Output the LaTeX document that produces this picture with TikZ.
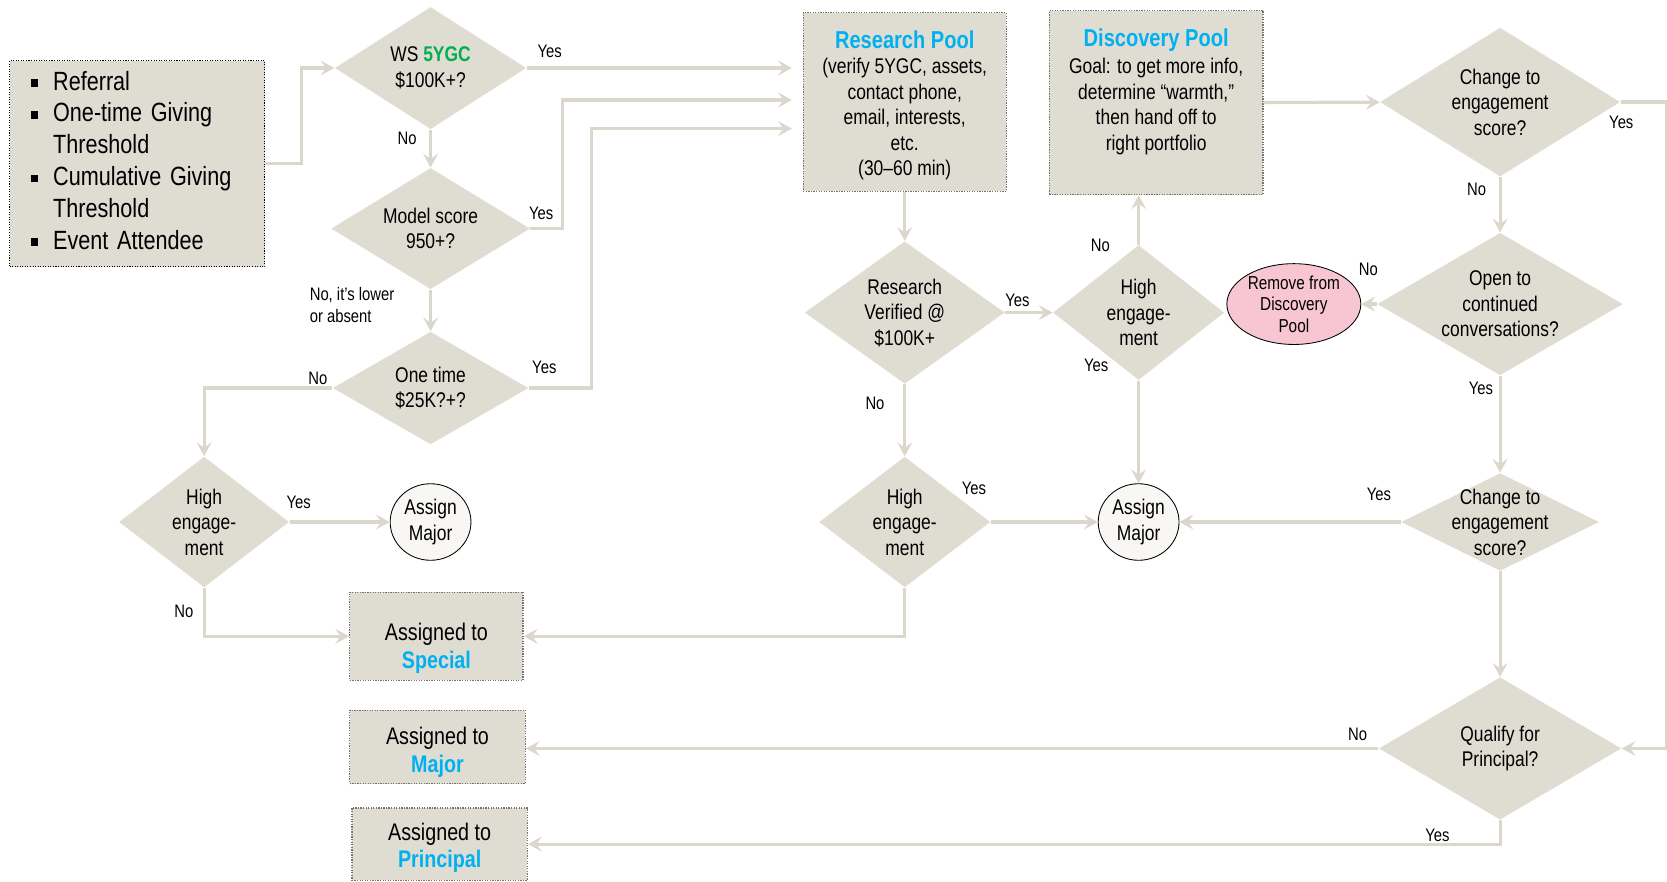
\documentclass[tikz,border=0pt]{standalone}
\usepackage{fontspec}
\setmainfont{Liberation Sans}[FakeStretch=0.82]
\usetikzlibrary{shapes.geometric, arrows.meta, positioning}
\definecolor{tan}{RGB}{223,220,210}
\definecolor{wire}{RGB}{219,215,205}
\definecolor{skyblue}{RGB}{0,176,240}
\definecolor{leaf}{RGB}{0,176,80}
\definecolor{blush}{RGB}{248,198,211}
\definecolor{chalk}{RGB}{248,247,244}
\newcommand{\blt}{\makebox[10.5pt][l]{\rule[1.5pt]{3.5pt}{3.5pt}}}
\newcommand{\nob}{\makebox[10.5pt]{}}
\tikzset{ask/.style={label={[dtext]center:{#1}}}}

\begin{document}
\begin{tikzpicture}[x=0.5pt, y=-0.5pt]
\tikzstyle{decision}=[diamond, fill=tan, inner sep=0pt]
\tikzstyle{dtext}=[font=\fontsize{10}{12}\selectfont, align=center, inner sep=0pt]
\tikzstyle{pool}=[rectangle, fill=tan, draw=black!55, line width=0.6pt, dash pattern=on 0.6pt off 0.6pt, align=center, inner sep=0pt, font=\fontsize{10}{12}\selectfont]
\tikzstyle{assigned}=[pool, font=\fontsize{11.3}{13}\selectfont]
\tikzstyle{terminal}=[ellipse, draw=black, thin, fill=chalk, inner sep=0pt, minimum width=38pt, minimum height=36pt, align=center, font=\fontsize{10}{12}\selectfont]
\tikzstyle{drop}=[ellipse, draw=black, thin, fill=blush, inner sep=-1pt, minimum width=63pt, minimum height=38pt, align=center, font=\fontsize{8.8}{10.2}\selectfont]
\tikzstyle{lbl}=[font=\fontsize{8.5}{10.5}\selectfont, inner sep=0pt]
\tikzstyle{connect}=[draw=wire, line width=1.5pt, -{Stealth[length=6.5pt, width=7pt, inset=2.5pt]}]
\useasboundingbox (0,0) rectangle (1568,829);

% sources
\node[pool, draw=black, dash pattern=on 0.5pt off 0.7pt, minimum width=120pt, minimum height=97pt, text width=100pt, align=left, font=\fontsize{12.4}{14.95}\selectfont] (input) at (129,154)
  {\blt Referral\\ \blt One-time Giving\\ \nob Threshold\\ \blt Cumulative Giving\\ \nob Threshold\\ \blt Event Attendee\rule[-3.5pt]{0pt}{3.5pt}};

% left column of questions
\node[decision, ask={WS \textcolor{leaf}{\bfseries 5YGC}\\\$100K+?}, minimum width=90pt, minimum height=57.5pt] (ws) at (405,64) {};
\node[decision, ask={Model score\\950+?}, minimum width=93.5pt, minimum height=57pt] (model) at (405,215) {};
\node[decision, ask={One time\\\$25K?+?}, minimum width=92pt, minimum height=53pt] (onetime) at (405,365) {};
\node[decision, ask={High\\engage-\\ment}, minimum width=80pt, minimum height=61.5pt] (highL) at (192,491) {};
\node[terminal] (assignL) at (405,491) {Assign\\Major};

% outcomes
\node[assigned, minimum width=81.5pt, minimum height=41.5pt] (special) at (410.5,598.5) {\rule{0pt}{19.5pt}Assigned to\\{\bfseries\color{skyblue}Special}};
\node[assigned, minimum width=82.5pt, minimum height=34.5pt] (major) at (411.5,702.5) {\rule{0pt}{13.5pt}Assigned to\\{\bfseries\color{skyblue}Major}};
\node[assigned, minimum width=82.5pt, minimum height=34pt] (principal) at (413.5,794) {\rule{0pt}{11.5pt}Assigned to\\{\bfseries\color{skyblue}Principal}};

% research pool
\node[pool, minimum width=95.5pt, minimum height=84pt] (rp) at (851,96)
  {{\fontsize{11.5}{13}\selectfont\bfseries\color{skyblue}\rule{0pt}{11.5pt}Research Pool}\\ (verify 5YGC, assets,\\ contact phone,\\ email, interests,\\ etc.\\ (30--60 min)};
\node[decision, ask={Research\\Verified @\\\$100K+}, minimum width=94pt, minimum height=67pt] (verified) at (851,294) {};
\node[decision, ask={High\\engage-\\ment}, minimum width=80.5pt, minimum height=61.5pt] (highB) at (851,491) {};

% discovery pool
\node[pool, minimum width=100.5pt, minimum height=86.5pt] (dp) at (1087.5,96.5)
  {{\fontsize{11.5}{13}\selectfont\bfseries\color{skyblue}Discovery Pool}\\[1pt] Goal: to get more info,\\ determine “warmth,”\\ then hand off to\\ right portfolio\rule[-12.5pt]{0pt}{12.5pt}};
\node[decision, ask={High\\engage-\\ment}, minimum width=80.5pt, minimum height=63.5pt] (highM) at (1071,294) {};
\node[terminal] (assignR) at (1071,491) {Assign\\Major};

% right column
\node[decision, ask={Change to\\engagement\\score?}, minimum width=113pt, minimum height=70pt] (change1) at (1411,96) {};
\node[decision, ask={Open to\\continued\\conversations?}, minimum width=115.5pt, minimum height=67pt] (open) at (1411,286) {};
\node[drop] (remove) at (1217,286) {Remove from\\Discovery\\Pool};
\node[decision, ask={Change to\\engagement\\score?}, minimum width=93pt, minimum height=46pt] (change2) at (1411,491) {};
\node[decision, ask={Qualify for\\Principal?}, minimum width=114pt, minimum height=67pt] (qualify) at (1411,704) {};

% connectors
\draw[connect] (input.east) -- ++(34,0) |- (ws.west);
\draw[connect, shorten >=5pt] (ws.east) -- (ws.east -| rp.west);
\draw[connect, shorten >=5pt] (model.east) -- ++(30,0) |- ([yshift=1pt]rp.west);
\draw[connect, shorten >=5pt] (onetime.east) -- ++(59,0) |- ([yshift=-12.5pt]rp.west);
\draw[connect] (onetime.west) -| (highL.north);
\draw[connect] (highL.south) |- (special.west);
\draw[connect] (highB.south) |- (special.east);
\draw[connect] (highM.north) -- (highM.north |- dp.south);
\draw[connect] (change1.east) -- ++(43,0) |- (qualify.east);
\draw[connect] (qualify.west) -- (qualify.west -| major.east);
\draw[connect] (qualify.south) |- (principal.east);
\path (ws) edge [connect] (model)
      (model) edge [connect] (onetime)
      (highL) edge [connect] (assignL)
      (rp) edge [connect] (verified)
      (verified) edge [connect] (highM)
      (verified) edge [connect] (highB)
      (highB) edge [connect] (assignR)
      (highM) edge [connect] (assignR)
      (dp) edge [connect] (change1)
      (change1) edge [connect] (open)
      (open) edge [connect] (remove)
      (open) edge [connect] (change2)
      (change2) edge [connect] (assignR)
      (change2) edge [connect] (qualify);

% yes / no
\node[lbl] (wsYes) at (517,48) {Yes};
\node[lbl] (wsNo) at (383,130) {No};
\node[lbl] (modelYes) at (509,201) {Yes};
\node[lbl, anchor=west, align=left] (modelNo) at (291,287) {No, it’s lower\\or absent};
\node[lbl] (onetimeYes) at (512,346) {Yes};
\node[lbl] (onetimeNo) at (299,356) {No};
\node[lbl] (highLYes) at (281,473) {Yes};
\node[lbl] (highLNo) at (173,575) {No};
\node[lbl] (verifiedYes) at (957,283) {Yes};
\node[lbl] (verifiedNo) at (823,379) {No};
\node[lbl] (highBYes) at (916,459) {Yes};
\node[lbl] (highMNo) at (1035,231) {No};
\node[lbl] (highMYes) at (1031,344) {Yes};
\node[lbl] (change1Yes) at (1525,115) {Yes};
\node[lbl] (change1No) at (1389,178) {No};
\node[lbl] (openNo) at (1287,253) {No};
\node[lbl] (openYes) at (1393,365) {Yes};
\node[lbl] (change2Yes) at (1297,465) {Yes};
\node[lbl] (qualifyNo) at (1277,691) {No};
\node[lbl] (qualifyYes) at (1352,786) {Yes};
\end{tikzpicture}
\end{document}
